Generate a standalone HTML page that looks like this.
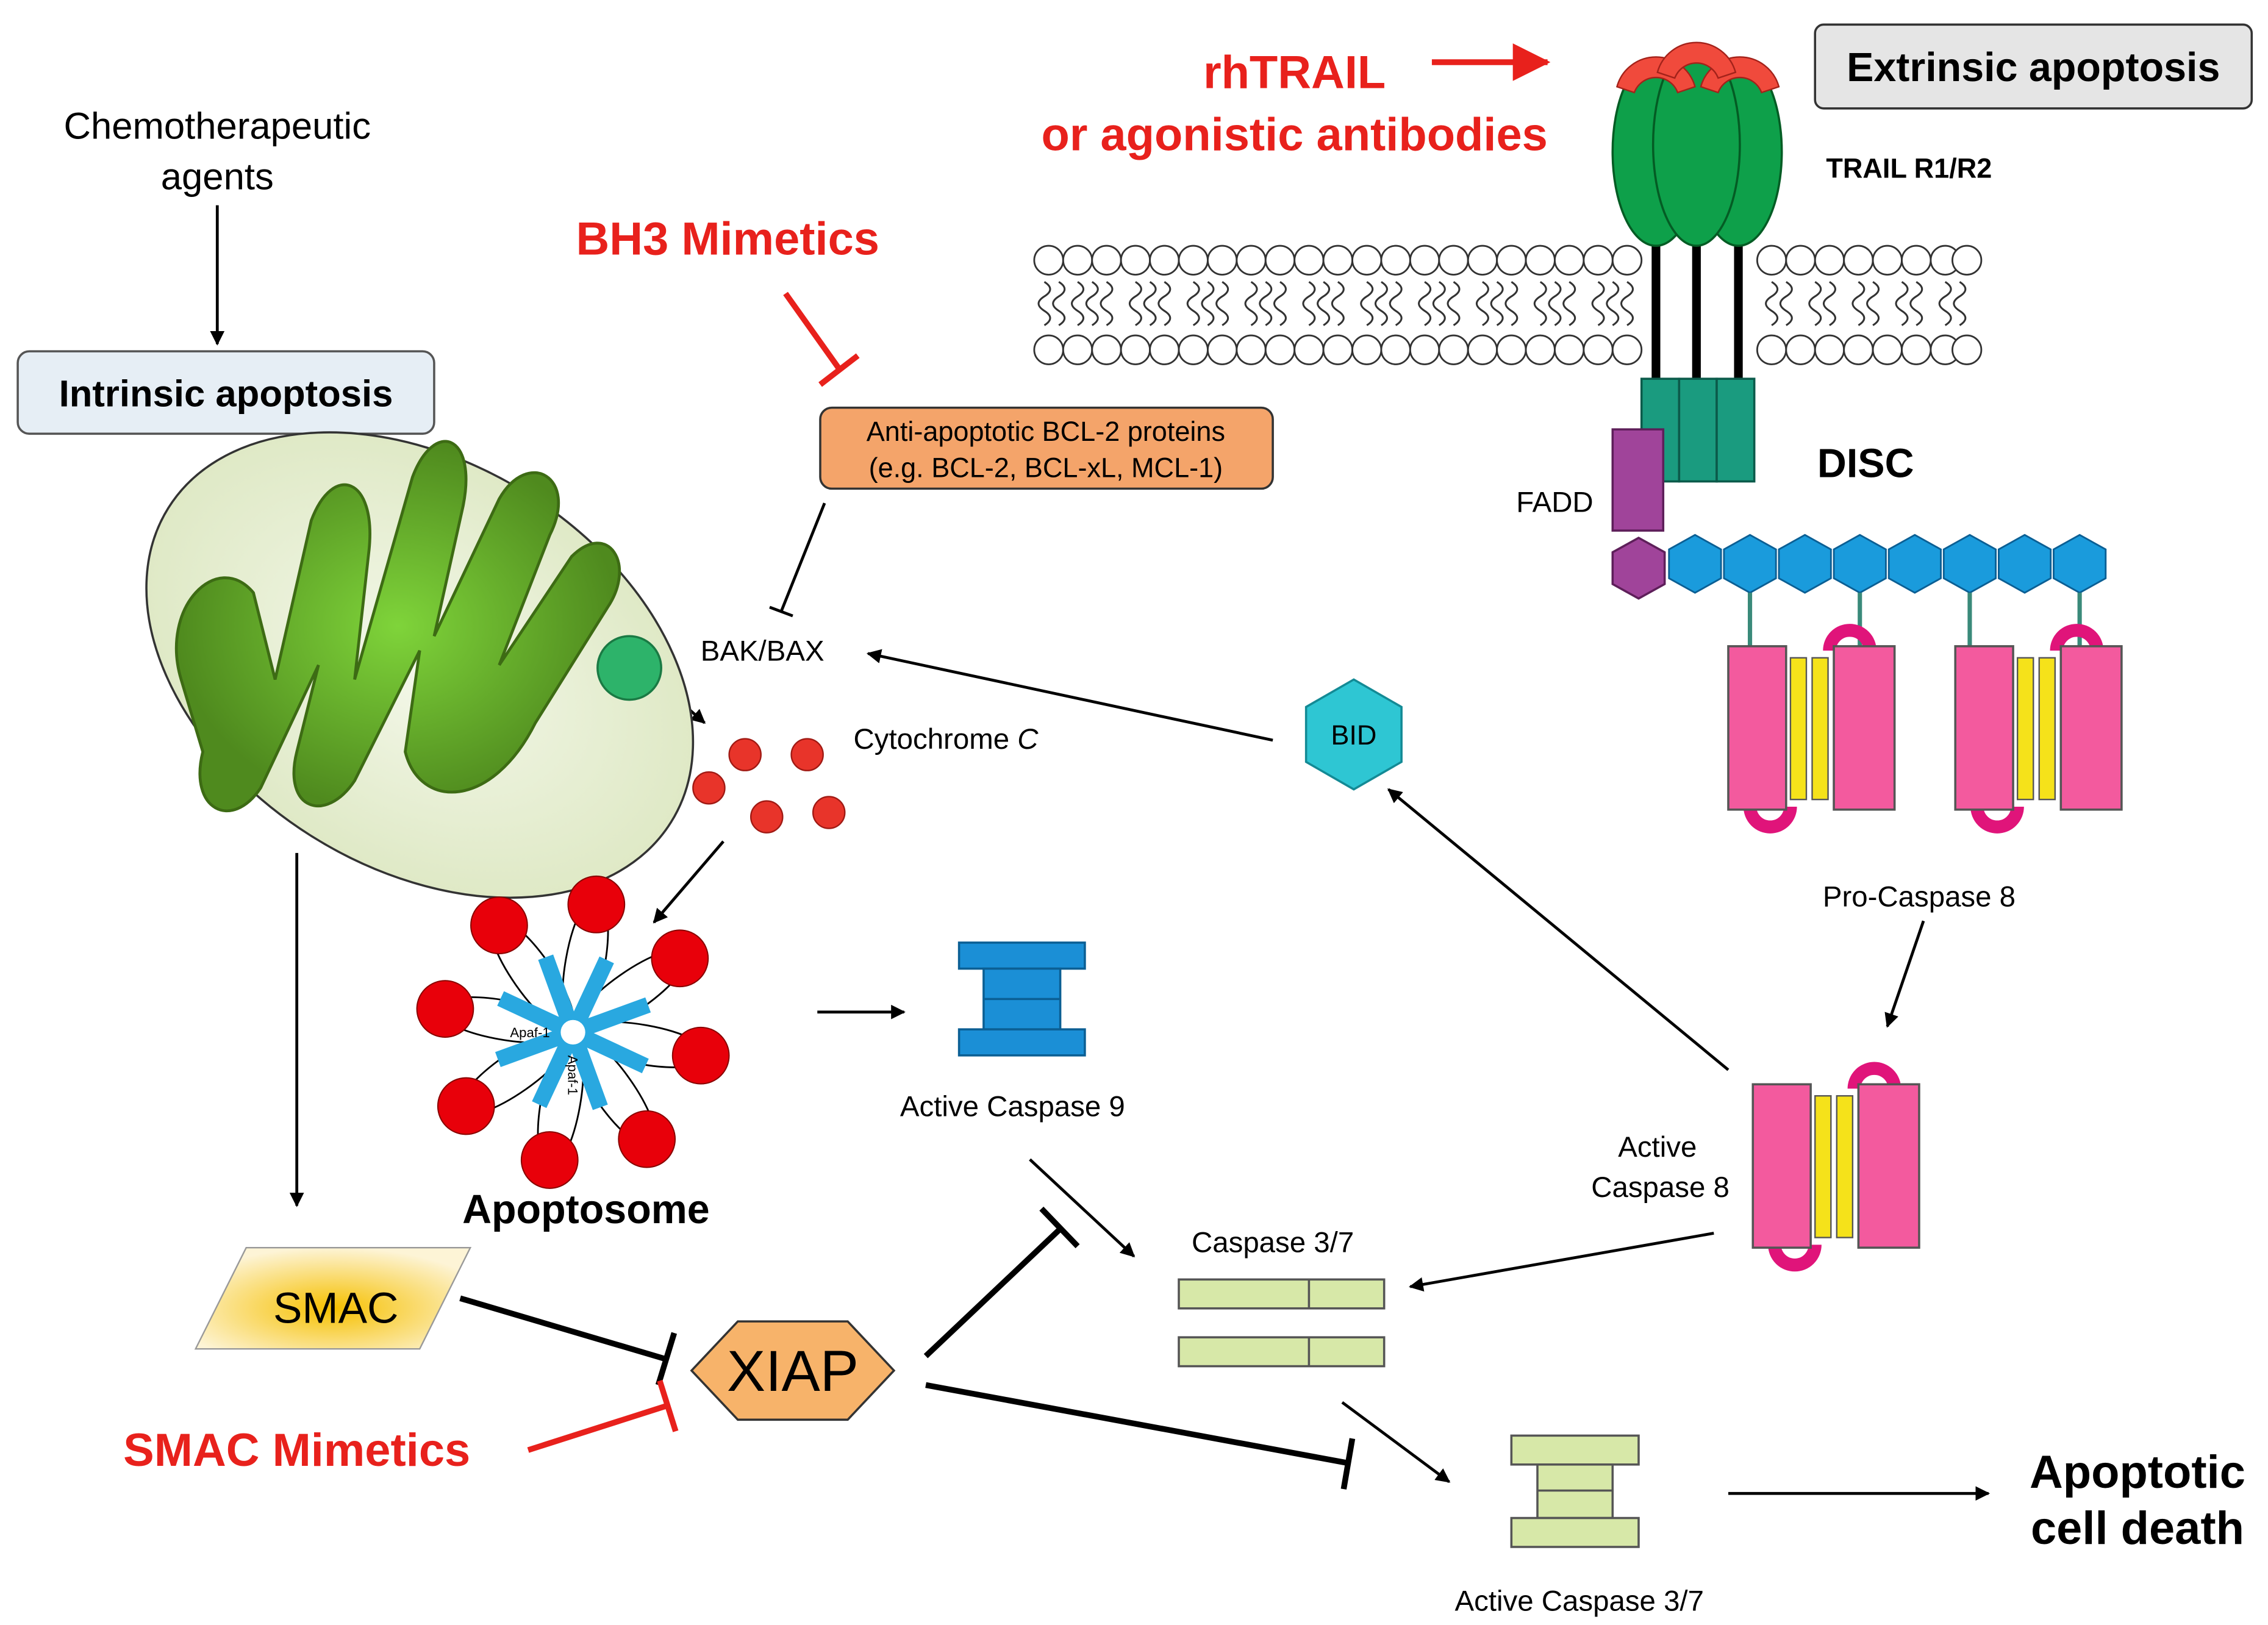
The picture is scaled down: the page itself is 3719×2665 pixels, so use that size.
<!DOCTYPE html>
<html><head><meta charset="utf-8"><style>html,body{margin:0;padding:0;background:#fff}svg{display:block}</style></head><body>
<svg width="3719" height="2665" viewBox="0 0 1568 1124" xmlns="http://www.w3.org/2000/svg" font-family="Liberation Sans, Arial, sans-serif">
<defs>
<marker id="ar" markerWidth="10" markerHeight="10" refX="9" refY="5" orient="auto" markerUnits="userSpaceOnUse"><path d="M0,0 L10,5 L0,10 z" fill="#000"/></marker>
<marker id="arr" markerWidth="26" markerHeight="26" refX="24" refY="13" orient="auto" markerUnits="userSpaceOnUse"><path d="M0,0 L26,13 L0,26 z" fill="#e8211c"/></marker>
<radialGradient id="mg" cx="0.5" cy="0.5" r="0.5"><stop offset="0" stop-color="#f4f8ea"/><stop offset="1" stop-color="#dfe9c6"/></radialGradient>
<radialGradient id="cg" cx="0.5" cy="0.5" r="0.5"><stop offset="0" stop-color="#7fd43a"/><stop offset="1" stop-color="#4f8a1e"/></radialGradient>
<radialGradient id="sg" cx="0.5" cy="0.6" r="0.6"><stop offset="0" stop-color="#f6c000"/><stop offset="1" stop-color="#fdf4d6"/></radialGradient>
</defs>
<g stroke="#000" stroke-width="2" fill="none">
<line x1="150" y1="142" x2="150" y2="238" marker-end="url(#ar)"/>
<line x1="570" y1="348" x2="540" y2="423"/><line x1="532" y1="420" x2="548" y2="426"/>
<line x1="415" y1="437" x2="487" y2="500" marker-end="url(#ar)"/>
<line x1="500" y1="582" x2="452" y2="638" marker-end="url(#ar)"/>
<line x1="565" y1="700" x2="625" y2="700" marker-end="url(#ar)"/>
<line x1="205" y1="590" x2="205" y2="834" marker-end="url(#ar)"/>
<line x1="712" y1="802" x2="784" y2="869" marker-end="url(#ar)"/>
<line x1="928" y1="970" x2="1002" y2="1025" marker-end="url(#ar)"/>
<line x1="1195" y1="1033" x2="1375" y2="1033" marker-end="url(#ar)"/>
<line x1="1185" y1="853" x2="975" y2="890" marker-end="url(#ar)"/>
<line x1="1195" y1="740" x2="960" y2="546" marker-end="url(#ar)"/>
<line x1="880" y1="512" x2="600" y2="452" marker-end="url(#ar)"/>
<line x1="1330" y1="637" x2="1305" y2="710" marker-end="url(#ar)"/>
</g>
<g stroke="#000" stroke-width="4">
<line x1="318" y1="898" x2="460" y2="940"/><line x1="466" y1="922" x2="455" y2="958"/>
<line x1="640" y1="938" x2="733" y2="850"/><line x1="720" y1="836" x2="745" y2="862"/>
<line x1="640" y1="958" x2="932" y2="1012"/><line x1="935" y1="995" x2="929" y2="1030"/>
</g>
<g stroke="#e8211c" stroke-width="4">
<line x1="543" y1="203" x2="580" y2="255"/><line x1="567" y1="266" x2="593" y2="246"/>
<line x1="365" y1="1003" x2="462" y2="972"/><line x1="456" y1="955" x2="467" y2="990"/>
<line x1="990" y1="43" x2="1070" y2="43" marker-end="url(#arr)"/>
</g>
<rect x="12" y="243" width="288" height="57" rx="8" fill="#e6eef5" stroke="#555" stroke-width="1.5"/>
<text x="156" y="281" font-size="26" font-weight="bold" text-anchor="middle">Intrinsic apoptosis</text>
<rect x="1255" y="17" width="302" height="58" rx="6" fill="#e5e5e5" stroke="#333" stroke-width="1.5"/>
<text x="1406" y="56" font-size="28" font-weight="bold" text-anchor="middle">Extrinsic apoptosis</text>
<rect x="567" y="282" width="313" height="56" rx="8" fill="#f4a46a" stroke="#333" stroke-width="1.5"/>
<text x="723" y="305" font-size="19" text-anchor="middle">Anti-apoptotic BCL-2 proteins</text>
<text x="723" y="330" font-size="19" text-anchor="middle">(e.g. BCL-2, BCL-xL, MCL-1)</text>
<text x="150" y="96" font-size="26" text-anchor="middle">Chemotherapeutic</text>
<text x="150" y="131" font-size="26" text-anchor="middle">agents</text>
<text x="503" y="176" font-size="32" font-weight="bold" fill="#e8211c" text-anchor="middle">BH3 Mimetics</text>
<text x="895" y="61" font-size="32" font-weight="bold" fill="#e8211c" text-anchor="middle">rhTRAIL</text>
<text x="895" y="104" font-size="32" font-weight="bold" fill="#e8211c" text-anchor="middle">or agonistic antibodies</text>
<text x="205" y="1014" font-size="32" font-weight="bold" fill="#e8211c" text-anchor="middle">SMAC Mimetics</text>
<text x="1320" y="123" font-size="19" font-weight="bold" text-anchor="middle">TRAIL R1/R2</text>
<text x="1290" y="330" font-size="28" font-weight="bold" text-anchor="middle">DISC</text>
<text x="1075" y="354" font-size="20" text-anchor="middle">FADD</text>
<text x="527" y="457" font-size="20" text-anchor="middle">BAK/BAX</text>
<text x="590" y="518" font-size="20">Cytochrome <tspan font-style="italic">C</tspan></text>
<text x="405" y="846" font-size="28" font-weight="bold" text-anchor="middle">Apoptosome</text>
<text x="700" y="772" font-size="20" text-anchor="middle">Active Caspase 9</text>
<text x="880" y="866" font-size="20" text-anchor="middle">Caspase 3/7</text>
<text x="1092" y="1114" font-size="20" text-anchor="middle">Active Caspase 3/7</text>
<text x="1146" y="800" font-size="20" text-anchor="middle">Active</text>
<text x="1148" y="828" font-size="20" text-anchor="middle">Caspase 8</text>
<text x="1327" y="627" font-size="20" text-anchor="middle">Pro-Caspase 8</text>
<text x="1478" y="1029" font-size="32" font-weight="bold" text-anchor="middle">Apoptotic</text>
<text x="1478" y="1068" font-size="32" font-weight="bold" text-anchor="middle">cell death</text>
<ellipse cx="290" cy="460" rx="205" ry="140" transform="rotate(32 290 460)" fill="url(#mg)" stroke="#333" stroke-width="1.5"/>
<path d="M125,470 C110,420 150,380 175,410 L190,470 L215,360 C230,320 260,330 255,380 L245,470 L285,330 C300,290 330,300 320,350 L300,440 L345,345 C365,310 400,330 380,370 L345,460 L395,385 C420,360 440,390 420,420 L370,500 C340,560 290,560 280,520 L290,450 L245,540 C225,570 195,560 205,520 L220,460 L180,545 C160,575 130,560 140,520 Z" fill="url(#cg)" stroke="#3d6b14" stroke-width="2"/>
<circle cx="435" cy="462" r="22" fill="#2db36a" stroke="#1a7a44" stroke-width="1.5"/>
<g fill="#e8342a" stroke="#a01a14" stroke-width="1"><circle cx="515" cy="522" r="11"/><circle cx="558" cy="522" r="11"/><circle cx="490" cy="545" r="11"/><circle cx="530" cy="565" r="11"/><circle cx="573" cy="562" r="11"/></g>
<g transform="translate(396,714) scale(0.85)">
<g fill="#fff" stroke="#000" stroke-width="1.4">
<ellipse cx="0" cy="-58" rx="16" ry="55" transform="rotate(10)"/><ellipse cx="0" cy="-58" rx="16" ry="55" transform="rotate(55)"/><ellipse cx="0" cy="-58" rx="16" ry="55" transform="rotate(100)"/><ellipse cx="0" cy="-58" rx="16" ry="55" transform="rotate(145)"/><ellipse cx="0" cy="-58" rx="16" ry="55" transform="rotate(190)"/><ellipse cx="0" cy="-58" rx="16" ry="55" transform="rotate(235)"/><ellipse cx="0" cy="-58" rx="16" ry="55" transform="rotate(280)"/><ellipse cx="0" cy="-58" rx="16" ry="55" transform="rotate(325)"/>
</g>
<g fill="#e8000a" stroke="#800" stroke-width="1"><circle cx="19" cy="-104" r="23" transform="rotate(0)"/><circle cx="19" cy="-104" r="23" transform="rotate(45)"/><circle cx="19" cy="-104" r="23" transform="rotate(90)"/><circle cx="19" cy="-104" r="23" transform="rotate(135)"/><circle cx="19" cy="-104" r="23" transform="rotate(180)"/><circle cx="19" cy="-104" r="23" transform="rotate(225)"/><circle cx="19" cy="-104" r="23" transform="rotate(270)"/><circle cx="19" cy="-104" r="23" transform="rotate(315)"/></g>
<g stroke="#29a8e0" stroke-width="13"><line x1="-65" y1="0" x2="65" y2="0" transform="rotate(-20)"/><line x1="-65" y1="0" x2="65" y2="0" transform="rotate(25)"/><line x1="-65" y1="0" x2="65" y2="0" transform="rotate(70)"/><line x1="-65" y1="0" x2="65" y2="0" transform="rotate(115)"/></g>
<circle r="10" fill="#fff"/>
<g font-size="11" text-anchor="middle"><text x="-35" y="4">Apaf-1</text><text x="35" y="4" transform="rotate(90)">Apaf-1</text></g>
</g>
<g fill="#1b8fd6" stroke="#0b5f94" stroke-width="1.5"><rect x="663" y="652" width="87" height="18"/><rect x="680" y="670" width="53" height="42"/><line x1="680" y1="691" x2="733" y2="691"/><rect x="663" y="712" width="87" height="18"/></g>
<g fill="#d7e8a8" stroke="#555" stroke-width="1.5"><rect x="815" y="885" width="142" height="20"/><line x1="905" y1="885" x2="905" y2="905"/><rect x="815" y="925" width="142" height="20"/><line x1="905" y1="925" x2="905" y2="945"/>
<rect x="1045" y="993" width="88" height="20"/><rect x="1063" y="1013" width="52" height="37"/><line x1="1063" y1="1031" x2="1115" y2="1031"/><rect x="1045" y="1050" width="88" height="20"/></g>
<polygon points="170,863 325,863 290,933 135,933" fill="url(#sg)" stroke="#999" stroke-width="1"/>
<text x="232" y="915" font-size="30" text-anchor="middle">SMAC</text>
<polygon points="478,948 510,914 586,914 618,948 586,982 510,982" fill="#f7b36a" stroke="#333" stroke-width="1.5"/>
<text x="548" y="962" font-size="40" text-anchor="middle">XIAP</text>
<polygon points="936,470 969,489 969,527 936,546 903,527 903,489" fill="#2ec6d3" stroke="#138a95" stroke-width="1.5"/>
<text x="936" y="515" font-size="19" text-anchor="middle">BID</text>
<g stroke="#333" stroke-width="1.3" fill="none">
<path d="M722,195 q8,5 0,10 q-8,5 0,10 q8,5 0,10 M732,195 q8,5 0,10 q-8,5 0,10 q8,5 0,10 M745,195 q8,5 0,10 q-8,5 0,10 q8,5 0,10 M755,195 q8,5 0,10 q-8,5 0,10 q8,5 0,10 M765,195 q8,5 0,10 q-8,5 0,10 q8,5 0,10 M785,195 q8,5 0,10 q-8,5 0,10 q8,5 0,10 M795,195 q8,5 0,10 q-8,5 0,10 q8,5 0,10 M805,195 q8,5 0,10 q-8,5 0,10 q8,5 0,10 M825,195 q8,5 0,10 q-8,5 0,10 q8,5 0,10 M835,195 q8,5 0,10 q-8,5 0,10 q8,5 0,10 M845,195 q8,5 0,10 q-8,5 0,10 q8,5 0,10 M865,195 q8,5 0,10 q-8,5 0,10 q8,5 0,10 M875,195 q8,5 0,10 q-8,5 0,10 q8,5 0,10 M885,195 q8,5 0,10 q-8,5 0,10 q8,5 0,10 M905,195 q8,5 0,10 q-8,5 0,10 q8,5 0,10 M915,195 q8,5 0,10 q-8,5 0,10 q8,5 0,10 M925,195 q8,5 0,10 q-8,5 0,10 q8,5 0,10 M945,195 q8,5 0,10 q-8,5 0,10 q8,5 0,10 M955,195 q8,5 0,10 q-8,5 0,10 q8,5 0,10 M965,195 q8,5 0,10 q-8,5 0,10 q8,5 0,10 M985,195 q8,5 0,10 q-8,5 0,10 q8,5 0,10 M995,195 q8,5 0,10 q-8,5 0,10 q8,5 0,10 M1005,195 q8,5 0,10 q-8,5 0,10 q8,5 0,10 M1025,195 q8,5 0,10 q-8,5 0,10 q8,5 0,10 M1035,195 q8,5 0,10 q-8,5 0,10 q8,5 0,10 M1045,195 q8,5 0,10 q-8,5 0,10 q8,5 0,10 M1065,195 q8,5 0,10 q-8,5 0,10 q8,5 0,10 M1075,195 q8,5 0,10 q-8,5 0,10 q8,5 0,10 M1085,195 q8,5 0,10 q-8,5 0,10 q8,5 0,10 M1105,195 q8,5 0,10 q-8,5 0,10 q8,5 0,10 M1115,195 q8,5 0,10 q-8,5 0,10 q8,5 0,10 M1125,195 q8,5 0,10 q-8,5 0,10 q8,5 0,10 M1225,195 q8,5 0,10 q-8,5 0,10 q8,5 0,10 M1235,195 q8,5 0,10 q-8,5 0,10 q8,5 0,10 M1255,195 q8,5 0,10 q-8,5 0,10 q8,5 0,10 M1265,195 q8,5 0,10 q-8,5 0,10 q8,5 0,10 M1285,195 q8,5 0,10 q-8,5 0,10 q8,5 0,10 M1295,195 q8,5 0,10 q-8,5 0,10 q8,5 0,10 M1315,195 q8,5 0,10 q-8,5 0,10 q8,5 0,10 M1325,195 q8,5 0,10 q-8,5 0,10 q8,5 0,10 M1345,195 q8,5 0,10 q-8,5 0,10 q8,5 0,10 M1355,195 q8,5 0,10 q-8,5 0,10 q8,5 0,10"/>
</g>
<g fill="#fff" stroke="#333" stroke-width="1.2">
<circle cx="725" cy="180" r="10"/><circle cx="745" cy="180" r="10"/><circle cx="765" cy="180" r="10"/><circle cx="785" cy="180" r="10"/><circle cx="805" cy="180" r="10"/><circle cx="825" cy="180" r="10"/><circle cx="845" cy="180" r="10"/><circle cx="865" cy="180" r="10"/><circle cx="885" cy="180" r="10"/><circle cx="905" cy="180" r="10"/><circle cx="925" cy="180" r="10"/><circle cx="945" cy="180" r="10"/><circle cx="965" cy="180" r="10"/><circle cx="985" cy="180" r="10"/><circle cx="1005" cy="180" r="10"/><circle cx="1025" cy="180" r="10"/><circle cx="1045" cy="180" r="10"/><circle cx="1065" cy="180" r="10"/><circle cx="1085" cy="180" r="10"/><circle cx="1105" cy="180" r="10"/><circle cx="1125" cy="180" r="10"/><circle cx="1225" cy="180" r="10"/><circle cx="1245" cy="180" r="10"/><circle cx="1265" cy="180" r="10"/><circle cx="1285" cy="180" r="10"/><circle cx="1305" cy="180" r="10"/><circle cx="1325" cy="180" r="10"/><circle cx="1345" cy="180" r="10"/>
<circle cx="725" cy="242" r="10"/><circle cx="745" cy="242" r="10"/><circle cx="765" cy="242" r="10"/><circle cx="785" cy="242" r="10"/><circle cx="805" cy="242" r="10"/><circle cx="825" cy="242" r="10"/><circle cx="845" cy="242" r="10"/><circle cx="865" cy="242" r="10"/><circle cx="885" cy="242" r="10"/><circle cx="905" cy="242" r="10"/><circle cx="925" cy="242" r="10"/><circle cx="945" cy="242" r="10"/><circle cx="965" cy="242" r="10"/><circle cx="985" cy="242" r="10"/><circle cx="1005" cy="242" r="10"/><circle cx="1025" cy="242" r="10"/><circle cx="1045" cy="242" r="10"/><circle cx="1065" cy="242" r="10"/><circle cx="1085" cy="242" r="10"/><circle cx="1105" cy="242" r="10"/><circle cx="1125" cy="242" r="10"/><circle cx="1225" cy="242" r="10"/><circle cx="1245" cy="242" r="10"/><circle cx="1265" cy="242" r="10"/><circle cx="1285" cy="242" r="10"/><circle cx="1305" cy="242" r="10"/><circle cx="1325" cy="242" r="10"/><circle cx="1345" cy="242" r="10"/><circle cx="1360" cy="242" r="10"/><circle cx="1360" cy="180" r="10"/>
</g>
<g stroke="#000" stroke-width="6"><line x1="1145" y1="150" x2="1145" y2="265"/><line x1="1173" y1="150" x2="1173" y2="265"/><line x1="1202" y1="150" x2="1202" y2="265"/></g>
<g fill="#0ea04a" stroke="#045c24" stroke-width="1.5">
<ellipse cx="1145" cy="105" rx="30" ry="65"/><ellipse cx="1202" cy="105" rx="30" ry="65"/><ellipse cx="1173" cy="100" rx="30" ry="70"/></g>
<g fill="#f04a3c" stroke="#a3221a" stroke-width="1">
<path d="M1118,60 a28,28 0 0 1 54,0 l-12,4 a16,16 0 0 0 -30,0 z"/><path d="M1176,60 a28,28 0 0 1 54,0 l-12,4 a16,16 0 0 0 -30,0 z"/><path d="M1146,50 a28,28 0 0 1 54,0 l-12,4 a16,16 0 0 0 -30,0 z"/></g>
<g fill="#1a9b7f" stroke="#0b5a4a" stroke-width="1.5"><rect x="1135" y="262" width="26" height="71"/><rect x="1161" y="262" width="26" height="71"/><rect x="1187" y="262" width="26" height="71"/></g>
<rect x="1115" y="297" width="35" height="70" fill="#a0449a" stroke="#5e1f5a" stroke-width="1.5"/>
<polygon points="1133,372 1151,382 1151,404 1133,414 1115,404 1115,382" fill="#a0449a" stroke="#5e1f5a" stroke-width="1.5"/>
<g fill="#1a9bdc" stroke="#0b5f94" stroke-width="1.2">
<polygon points="1172,370 1190,380 1190,400 1172,410 1154,400 1154,380"/><polygon points="1210,370 1228,380 1228,400 1210,410 1192,400 1192,380"/><polygon points="1248,370 1266,380 1266,400 1248,410 1230,400 1230,380"/><polygon points="1286,370 1304,380 1304,400 1286,410 1268,400 1268,380"/><polygon points="1324,370 1342,380 1342,400 1324,410 1306,400 1306,380"/><polygon points="1362,370 1380,380 1380,400 1362,410 1344,400 1344,380"/><polygon points="1400,370 1418,380 1418,400 1400,410 1382,400 1382,380"/><polygon points="1438,370 1456,380 1456,400 1438,410 1420,400 1420,380"/></g>
<g stroke="#3a8a7a" stroke-width="3"><line x1="1210" y1="410" x2="1210" y2="450"/><line x1="1286" y1="410" x2="1286" y2="450"/><line x1="1362" y1="410" x2="1362" y2="450"/><line x1="1438" y1="410" x2="1438" y2="450"/></g>
<g id="c8">
<g fill="none" stroke="#e0147a" stroke-width="9"><path d="M1265,450 a14,14 0 0 1 28,0"/><path d="M1210,558 a14,14 0 0 0 28,0"/></g>
<rect x="1195" y="447" width="40" height="113" fill="#f35a9e" stroke="#555" stroke-width="1.5"/>
<rect x="1238" y="455" width="11" height="98" fill="#f5e21a" stroke="#555"/><rect x="1253" y="455" width="11" height="98" fill="#f5e21a" stroke="#555"/>
<rect x="1268" y="447" width="42" height="113" fill="#f35a9e" stroke="#555" stroke-width="1.5"/>
</g>
<use href="#c8" transform="translate(157,0)"/>
<use href="#c8" transform="translate(17,303)"/>
</svg>
</body></html>
